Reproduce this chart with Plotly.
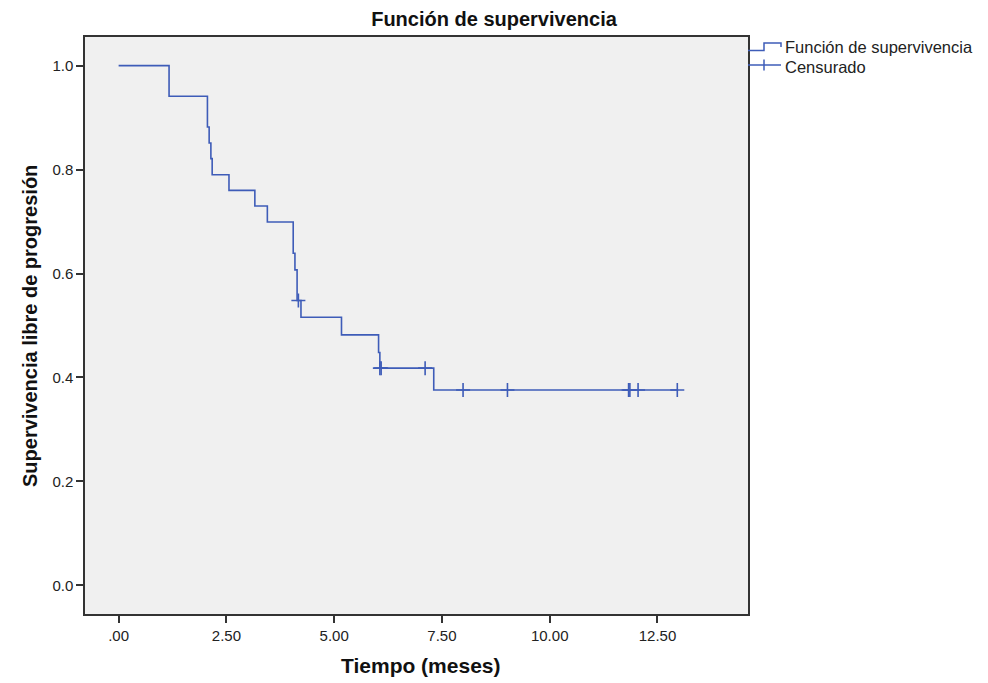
import plotly.graph_objects as go

# ---- data ----
step_times = [0.0, 1.17, 2.06, 2.10, 2.14, 2.17, 2.56, 3.16, 3.45, 4.05, 4.09, 4.14, 4.23, 5.17, 6.03, 6.06, 7.31, 12.98]
step_surv = [1.0, 0.941, 0.882, 0.851, 0.821, 0.790, 0.760, 0.730, 0.699, 0.639, 0.607, 0.548, 0.516, 0.482, 0.448, 0.418, 0.376, 0.376]

cens_times = [4.17, 6.06, 6.09, 7.11, 7.99, 9.02, 11.83, 11.86, 12.05, 12.96]
cens_surv = [0.548, 0.418, 0.418, 0.418, 0.376, 0.376, 0.376, 0.376, 0.376, 0.376]

x_tickvals = [0, 2.5, 5.0, 7.5, 10.0, 12.5]
x_ticktext = [".00", "2.50", "5.00", "7.50", "10.00", "12.50"]
y_tickvals = [0.0, 0.2, 0.4, 0.6, 0.8, 1.0]
y_ticktext = ["0.0", "0.2", "0.4", "0.6", "0.8", "1.0"]

title_text = "Función de supervivencia"
x_title = "Tiempo (meses)"
y_title = "Supervivencia libre de progresión"
legend_labels = ["Función de supervivencia", "Censurado"]

# ---- layout constants (page pixels; the page body has an 8px margin) ----
OFF = 8
W, H = 988 - OFF, 683 - OFF
L, R, T, B = 85, 748, 37, 614  # plot area in page pixels
BLUE = "#3e5cb8"
FONT = "Liberation Sans, Arial, sans-serif"


def px_x(p):
    return (p - L) / (R - L)


def px_y(p):
    return (B - p) / (B - T)


fig = go.Figure()
fig.add_trace(go.Scatter(
    x=step_times, y=step_surv, mode="lines",
    line=dict(shape="hv", color=BLUE, width=1.6),
    name=legend_labels[0], showlegend=False, hoverinfo="skip"))
fig.add_trace(go.Scatter(
    x=cens_times, y=cens_surv, mode="markers",
    marker=dict(symbol="cross-thin", size=10, line=dict(color=BLUE, width=1.6)),
    name=legend_labels[1], showlegend=False, hoverinfo="skip"))

axis_common = dict(
    showline=True, mirror=True, linecolor="#333333", linewidth=1.5,
    ticks="outside", ticklen=7, tickwidth=1.5, tickcolor="#333333",
    showgrid=False, zeroline=False,
    tickfont=dict(family=FONT, size=15, color="#222222"),
)

fig.update_layout(
    width=W, height=H,
    margin=dict(l=L - OFF, r=W - (R - OFF), t=T - OFF, b=H - (B - OFF), pad=0),
    paper_bgcolor="white", plot_bgcolor="#f0f0f0",
    title=dict(text=title_text, x=(494 - OFF) / W, xanchor="center", xref="container",
               y=1 - 4 / H, yref="container", yanchor="top",
               font=dict(family=FONT, size=20, color="#111111", weight="bold")),
    xaxis=dict(range=[-0.78, 14.6], tickvals=x_tickvals, ticktext=x_ticktext, **axis_common),
    yaxis=dict(range=[-0.055, 1.055], tickvals=y_tickvals, ticktext=y_ticktext, **axis_common),
    showlegend=False,
)

# axis titles
fig.add_annotation(text=f"<b>{x_title}</b>", xref="paper", yref="paper",
                   x=px_x(421), y=px_y(665), xanchor="center", yanchor="middle",
                   showarrow=False, font=dict(family=FONT, size=21, color="#111111"))
fig.add_annotation(text=f"<b>{y_title}</b>", xref="paper", yref="paper",
                   x=px_x(30), y=px_y(326), xanchor="center", yanchor="middle",
                   textangle=-90, showarrow=False,
                   font=dict(family=FONT, size=20, color="#111111"))

# custom legend (step icon + censor icon)
fig.add_shape(type="path",
              path=(f"M {px_x(748)} {px_y(50.5)} L {px_x(764)} {px_y(50.5)} "
                    f"L {px_x(764)} {px_y(43)} L {px_x(781)} {px_y(43)} L {px_x(781)} {px_y(47)}"),
              xref="paper", yref="paper", line=dict(color=BLUE, width=1.5))
fig.add_shape(type="line", xref="paper", yref="paper",
              x0=px_x(748), x1=px_x(781), y0=px_y(65), y1=px_y(65),
              line=dict(color=BLUE, width=1.5))
fig.add_shape(type="line", xref="paper", yref="paper",
              x0=px_x(764), x1=px_x(764), y0=px_y(59.5), y1=px_y(70.5),
              line=dict(color=BLUE, width=1.5))
fig.add_annotation(text=legend_labels[0], xref="paper", yref="paper",
                   x=px_x(783), y=px_y(47), xanchor="left", yanchor="middle",
                   showarrow=False, font=dict(family=FONT, size=16.5, color="#222222"))
fig.add_annotation(text=legend_labels[1], xref="paper", yref="paper",
                   x=px_x(783), y=px_y(67), xanchor="left", yanchor="middle",
                   showarrow=False, font=dict(family=FONT, size=16.5, color="#222222"))

fig.write_html("out.html")
